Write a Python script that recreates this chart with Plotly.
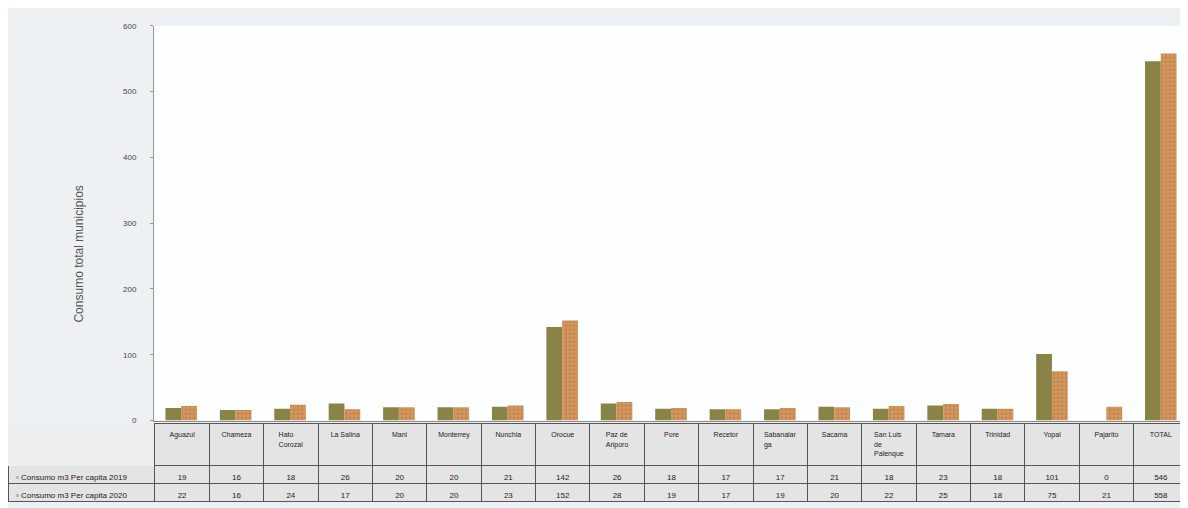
import plotly.graph_objects as go

municipios = ["Aguazul", "Chameza", "Hato<br>Corozal", "La Salina", "Mani", "Monterrey", "Nunchia",
              "Orocue", "Paz de<br>Ariporo", "Pore", "Recetor", "Sabanalar<br>ga", "Sacama",
              "San Luis<br>de<br>Palenque", "Tamara", "Trinidad", "Yopal", "Pajarito", "TOTAL"]
consumo_2019 = [19, 16, 18, 26, 20, 20, 21, 142, 26, 18, 17, 17, 21, 18, 23, 18, 101, 0, 546]
consumo_2020 = [22, 16, 24, 17, 20, 20, 23, 152, 28, 19, 17, 19, 20, 22, 25, 18, 75, 21, 558]
serie_2019 = "Consumo m3 Per capita 2019"
serie_2020 = "Consumo m3 Per capita 2020"

# the page body has an 8px margin, so the figure is placed at (8, 8)
OFF = 8
W, H = 1188 - OFF, 508 - OFF
mt, mb, ml, mr = 0, 0, 0, 0
ph = H - mt - mb
pw = W - ml - mr


def ydom(page_y):
    return (H - mb - (page_y - OFF)) / ph


def xdom(page_x):
    return (page_x - OFF - ml) / pw


fuente = "Liberation Sans Narrow, Arial Narrow, Liberation Sans"

fig = go.Figure()
fig.add_trace(go.Bar(x=list(range(len(municipios))), y=consumo_2019, name=serie_2019,
                     marker=dict(color="#8a8347", line=dict(width=0))))
fig.add_trace(go.Bar(x=list(range(len(municipios))), y=consumo_2020, name=serie_2020,
                     marker=dict(color="#c98a50", line=dict(width=0),
                                 pattern=dict(shape=".", fgcolor="#e6b282", bgcolor="#c98a50",
                                              size=4, solidity=0.35))))

# data table under the bars
tabla_cols = [["\u25AB " + serie_2019, "\u25AB " + serie_2020]]
for a, b in zip(consumo_2019, consumo_2020):
    tabla_cols.append([a, b])
line_cols = ["#eceef0"] + ["#555555"] * len(municipios)
fig.add_trace(go.Table(
    domain=dict(x=[0, 1], y=[0, ydom(427)]),
    columnwidth=[147] + [54.4] * len(municipios),
    header=dict(values=[""] + municipios,
                fill_color=["#eceef0"] + ["#e4e4e4"] * len(municipios),
                line=dict(color=line_cols, width=1),
                align="center", height=36,
                font=dict(family=fuente, size=7, color="#222222")),
    cells=dict(values=tabla_cols,
               fill_color="#e4e4e4",
               line=dict(color="#555555", width=1),
               align=["left"] + ["center"] * len(municipios), height=18,
               font=dict(family=fuente, size=8, color="#222222")),
))

fig.update_layout(
    width=W, height=H,
    margin=dict(l=ml, r=mr, t=mt, b=mb),
    paper_bgcolor="#eef1f3",
    plot_bgcolor="#fdfefe",
    showlegend=False,
    barmode="group",
    bargap=0.42,
    bargroupgap=0.0,
    xaxis=dict(domain=[xdom(154), 1], range=[-0.5, len(municipios) - 0.5], showticklabels=False,
               showgrid=False, zeroline=False, showline=True, linecolor="#888888", ticks=""),
    yaxis=dict(domain=[ydom(424), ydom(22)], range=[0, 600], dtick=100, showgrid=False, zeroline=False,
               showline=True, linecolor="#999999", ticks="outside", ticklen=3, tickcolor="#999999",
               tickfont=dict(family=fuente, size=8, color="#444444"),
               ticklabelstandoff=12),
    annotations=[dict(text="Consumo total municipios", x=xdom(70), xref="paper", y=ydom(255), yref="paper",
                      textangle=-90, showarrow=False,
                      font=dict(family="Liberation Sans", size=12, color="#555555"))],
)

fig.write_html("out.html")
